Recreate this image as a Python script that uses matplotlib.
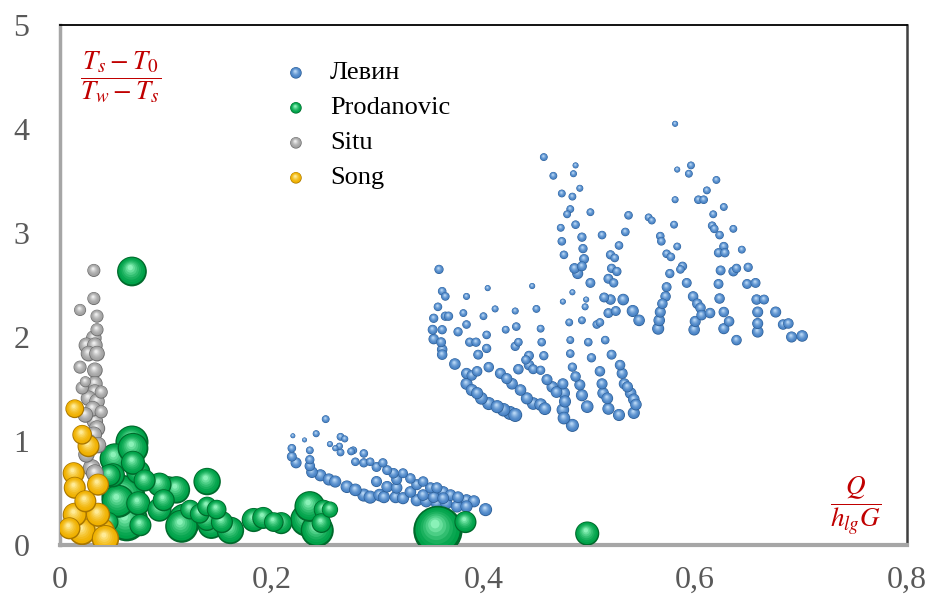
import numpy as np
import matplotlib
matplotlib.use('Agg')
import matplotlib.pyplot as plt
import matplotlib.colors as mcolors
from matplotlib.path import Path
from matplotlib.ticker import FuncFormatter

# ---------------- data: (x, y, bubble value) ----------------
levin_points = [
    # right fan
    (0.581, 4.05, 3), (0.457, 3.73, 5), (0.466, 3.55, 5), (0.487, 3.65, 3), (0.485, 3.57, 4),
    (0.491, 3.43, 4), (0.484, 3.35, 5), (0.474, 3.38, 5), (0.482, 3.23, 5), (0.479, 3.18, 5),
    (0.501, 3.20, 5), (0.473, 3.05, 5), (0.487, 3.08, 6), (0.474, 2.92, 6), (0.493, 2.96, 7),
    (0.494, 2.85, 7), (0.476, 2.79, 6), (0.495, 2.75, 8), (0.486, 2.66, 9), (0.493, 2.68, 8),
    (0.489, 2.61, 10), (0.501, 2.52, 8), (0.512, 2.98, 6), (0.520, 2.79, 7), (0.524, 2.76, 6),
    (0.521, 2.66, 7), (0.526, 2.63, 7), (0.518, 2.56, 8), (0.523, 2.52, 7), (0.514, 2.38, 8),
    (0.520, 2.36, 9), (0.518, 2.23, 8), (0.525, 2.25, 8), (0.532, 2.36, 11), (0.541, 2.25, 12),
    (0.547, 2.16, 11), (0.537, 3.17, 6), (0.534, 3.01, 6), (0.528, 2.88, 6), (0.556, 3.15, 5),
    (0.559, 3.12, 5), (0.567, 2.97, 6), (0.568, 2.92, 6), (0.581, 3.32, 4), (0.580, 3.08, 5),
    (0.583, 2.87, 5), (0.573, 2.80, 6), (0.577, 2.77, 6), (0.588, 2.68, 7), (0.586, 2.65, 6),
    (0.576, 2.61, 7), (0.592, 2.52, 8), (0.573, 2.48, 8), (0.572, 2.39, 9), (0.569, 2.32, 9),
    (0.567, 2.24, 10), (0.566, 2.16, 11), (0.565, 2.08, 12), (0.598, 2.39, 9), (0.602, 2.32, 9),
    (0.605, 2.28, 9), (0.606, 2.21, 9), (0.614, 2.23, 9), (0.600, 2.15, 10), (0.599, 2.07, 11),
    (0.583, 3.61, 3), (0.596, 3.65, 5), (0.594, 3.57, 5), (0.620, 3.51, 5), (0.611, 3.41, 5),
    (0.603, 3.32, 6), (0.608, 3.32, 6), (0.627, 3.25, 5), (0.617, 3.18, 5), (0.616, 3.07, 6),
    (0.618, 3.04, 6), (0.623, 2.98, 6), (0.636, 3.04, 5), (0.627, 2.87, 7), (0.622, 2.81, 7),
    (0.628, 2.81, 7), (0.644, 2.84, 5), (0.624, 2.64, 8), (0.639, 2.66, 7), (0.650, 2.67, 7),
    (0.636, 2.63, 8), (0.622, 2.51, 8), (0.649, 2.51, 8), (0.657, 2.52, 8), (0.623, 2.37, 9),
    (0.658, 2.36, 9), (0.665, 2.36, 8), (0.627, 2.24, 9), (0.659, 2.24, 10), (0.676, 2.24, 10),
    (0.632, 2.15, 9), (0.627, 2.08, 10), (0.659, 2.13, 10), (0.659, 2.05, 11), (0.639, 1.97, 9),
    (0.683, 2.12, 9), (0.688, 2.13, 9), (0.691, 2.00, 10), (0.701, 2.01, 11),
    (0.497, 2.36, 3), (0.496, 2.29, 4), (0.484, 2.43, 3), (0.475, 2.34, 3), (0.493, 2.16, 5),
    (0.481, 2.14, 5), (0.507, 2.12, 6), (0.510, 2.14, 6),
    # lower fan
    (0.358, 2.65, 7), (0.361, 2.44, 6), (0.364, 2.39, 6), (0.384, 2.39, 4), (0.404, 2.47, 3),
    (0.446, 2.49, 3), (0.357, 2.29, 6), (0.353, 2.18, 7), (0.364, 2.20, 7), (0.367, 2.20, 7),
    (0.381, 2.23, 5), (0.411, 2.27, 4), (0.430, 2.25, 4), (0.450, 2.27, 5), (0.400, 2.20, 5),
    (0.352, 2.07, 8), (0.361, 2.07, 7), (0.384, 2.12, 6), (0.376, 2.05, 7), (0.403, 2.02, 6),
    (0.421, 2.07, 5), (0.431, 2.10, 6), (0.454, 2.08, 5), (0.353, 1.98, 9), (0.360, 1.95, 8),
    (0.387, 1.95, 7), (0.393, 1.95, 7), (0.433, 1.95, 6), (0.430, 1.91, 7), (0.455, 1.95, 6),
    (0.361, 1.88, 9), (0.361, 1.83, 9), (0.395, 1.83, 8), (0.403, 1.89, 7), (0.443, 1.82, 8),
    (0.440, 1.78, 7), (0.457, 1.82, 7), (0.373, 1.74, 11), (0.384, 1.65, 10), (0.389, 1.63, 9),
    (0.394, 1.67, 9), (0.405, 1.71, 9), (0.416, 1.65, 10), (0.422, 1.60, 10), (0.427, 1.55, 11),
    (0.433, 1.69, 9), (0.443, 1.73, 9), (0.447, 1.69, 8), (0.454, 1.68, 7), (0.384, 1.55, 12),
    (0.389, 1.49, 12), (0.394, 1.46, 12), (0.398, 1.41, 13), (0.405, 1.36, 14), (0.413, 1.33, 14),
    (0.419, 1.30, 15), (0.425, 1.27, 16), (0.430, 1.25, 16), (0.435, 1.49, 11), (0.441, 1.41, 12),
    (0.447, 1.36, 13), (0.454, 1.35, 13), (0.458, 1.31, 13), (0.460, 1.59, 10), (0.465, 1.52, 11),
    (0.469, 1.47, 11), (0.475, 1.55, 10), (0.476, 1.46, 12), (0.477, 1.38, 12), (0.475, 1.30, 13),
    (0.476, 1.22, 13), (0.484, 1.15, 14), (0.482, 1.97, 5), (0.482, 1.84, 6), (0.484, 1.71, 7),
    (0.487, 1.62, 9), (0.491, 1.54, 10), (0.493, 1.44, 12), (0.498, 1.33, 13), (0.499, 1.95, 6),
    (0.502, 1.80, 7), (0.510, 1.67, 9), (0.512, 1.55, 10), (0.513, 1.46, 11), (0.517, 1.41, 11),
    (0.518, 1.31, 12), (0.515, 1.97, 6), (0.521, 1.83, 8), (0.529, 1.73, 9), (0.531, 1.65, 10),
    (0.533, 1.55, 10), (0.536, 1.52, 10), (0.539, 1.46, 11), (0.542, 1.40, 11), (0.544, 1.35, 11),
    (0.542, 1.27, 12), (0.528, 1.25, 12),
    # lower cluster
    (0.251, 1.21, 5), (0.220, 1.05, 2), (0.231, 1.01, 2), (0.242, 1.07, 4), (0.265, 1.04, 5),
    (0.269, 1.02, 4), (0.255, 0.97, 3), (0.260, 0.93, 3), (0.264, 0.95, 4), (0.265, 0.89, 5),
    (0.277, 0.91, 5), (0.275, 0.90, 5), (0.287, 0.88, 6), (0.219, 0.93, 6), (0.219, 0.85, 8),
    (0.223, 0.79, 10), (0.236, 0.91, 5), (0.236, 0.82, 7), (0.236, 0.76, 9), (0.238, 0.70, 11),
    (0.246, 0.67, 12), (0.254, 0.63, 12), (0.260, 0.61, 12), (0.271, 0.56, 13), (0.279, 0.53, 13),
    (0.287, 0.48, 14), (0.293, 0.46, 14), (0.302, 0.48, 13), (0.279, 0.80, 6), (0.287, 0.79, 7),
    (0.293, 0.80, 6), (0.299, 0.75, 8), (0.305, 0.79, 7), (0.309, 0.72, 8), (0.315, 0.69, 9),
    (0.318, 0.63, 10), (0.324, 0.69, 8), (0.331, 0.64, 9), (0.337, 0.58, 10), (0.343, 0.61, 9),
    (0.350, 0.55, 10), (0.356, 0.55, 10), (0.362, 0.51, 11), (0.369, 0.48, 11), (0.376, 0.46, 11),
    (0.384, 0.43, 12), (0.391, 0.42, 12), (0.402, 0.34, 14), (0.306, 0.46, 12), (0.317, 0.46, 12),
    (0.324, 0.45, 12), (0.337, 0.43, 12), (0.346, 0.42, 12), (0.356, 0.40, 12), (0.365, 0.40, 12),
    (0.375, 0.37, 12), (0.384, 0.37, 12), (0.299, 0.61, 10), (0.309, 0.56, 11), (0.318, 0.55, 11),
    (0.331, 0.51, 11), (0.343, 0.48, 11), (0.353, 0.46, 11), (0.362, 0.45, 11),
]

prodanovic_points = [
    (0.068, 2.63, 73), (0.068, 0.99, 90), (0.052, 0.83, 78), (0.047, 0.67, 40), (0.074, 0.70, 48),
    (0.060, 0.46, 160), (0.074, 0.40, 48), (0.065, 0.24, 122), (0.076, 0.19, 40), (0.094, 0.58, 48),
    (0.102, 0.53, 62), (0.098, 0.43, 40), (0.094, 0.34, 48), (0.110, 0.53, 62), (0.139, 0.61, 62),
    (0.118, 0.24, 90), (0.115, 0.18, 90), (0.123, 0.34, 32), (0.132, 0.30, 32), (0.139, 0.37, 32),
    (0.148, 0.34, 32), (0.143, 0.19, 62), (0.139, 0.24, 40), (0.153, 0.22, 40), (0.161, 0.14, 62),
    (0.183, 0.24, 48), (0.192, 0.26, 40), (0.202, 0.22, 32), (0.209, 0.21, 40), (0.236, 0.37, 78),
    (0.233, 0.24, 90), (0.249, 0.34, 32), (0.255, 0.34, 22), (0.243, 0.14, 90), (0.247, 0.21, 32),
    (0.357, 0.14, 200), (0.383, 0.22, 40), (0.498, 0.11, 48), (0.069, 0.93, 78), (0.050, 0.67, 48),
    (0.055, 0.42, 90), (0.063, 0.22, 122), (0.046, 0.22, 32), (0.069, 0.79, 48), (0.080, 0.62, 40),
]

situ_points = [
    (0.032, 2.64, 14), (0.032, 2.37, 14), (0.019, 2.26, 12), (0.035, 2.20, 14), (0.035, 2.07, 14),
    (0.032, 1.99, 20), (0.025, 1.92, 20), (0.033, 1.92, 20), (0.027, 1.84, 20), (0.035, 1.84, 20),
    (0.019, 1.71, 14), (0.033, 1.68, 20), (0.024, 1.57, 10), (0.033, 1.55, 20), (0.021, 1.51, 14),
    (0.033, 1.47, 20), (0.039, 1.47, 14), (0.027, 1.41, 20), (0.035, 1.38, 20), (0.031, 1.31, 20),
    (0.039, 1.28, 14), (0.024, 1.25, 20), (0.033, 1.19, 22), (0.035, 1.12, 22), (0.032, 1.06, 22),
    (0.027, 0.99, 22), (0.036, 0.96, 22), (0.025, 0.87, 22), (0.030, 0.74, 26), (0.033, 0.69, 26),
]

song_points = [
    (0.014, 1.31, 29), (0.021, 1.06, 32), (0.027, 0.95, 40), (0.013, 0.69, 40), (0.014, 0.55, 40),
    (0.036, 0.58, 40), (0.024, 0.42, 40), (0.014, 0.29, 48), (0.036, 0.29, 48), (0.027, 0.19, 62),
    (0.039, 0.13, 62), (0.021, 0.13, 62), (0.043, 0.06, 62), (0.009, 0.16, 40),
]

series_names = ['Левин', 'Prodanovic', 'Situ', 'Song']
x_ticks = [0, 0.2, 0.4, 0.6, 0.8]
y_ticks = [0, 1, 2, 3, 4, 5]

# ---------------- style ----------------
plt.rcParams['font.family'] = ['Liberation Serif', 'DejaVu Serif']
plt.rcParams['mathtext.fontset'] = 'stix'

# dark edge, body, highlight
cores = {
    'Левин': ('#2c5d94', '#4a84c6', '#b4d4f4'),
    'Prodanovic': ('#006a2c', '#00a249', '#8af2b8'),
    'Situ': ('#6c6c6c', '#a2a2a2', '#ececec'),
    'Song': ('#a87600', '#f0b100', '#ffeb96'),
}
vermelho = '#c00000'
SIZE_K = 6.3        # points^2 per bubble unit
RAIOS = [1.0, 0.9, 0.78, 0.66, 0.54, 0.42, 0.30, 0.18]


def mistura(c1, c2, t):
    a = np.array(mcolors.to_rgb(c1))
    b = np.array(mcolors.to_rgb(c2))
    return (1 - t) * a + t * b


def camadas():
    # circles of one sphere, each smaller and moved up-left
    paths = []
    for r in RAIOS:
        t = 1 - r
        paths.append(Path.circle((-0.07 * t, 0.16 * t), 0.5 * r))
    return paths


def cores_camadas(dark, base, light):
    cols = [mcolors.to_rgb(dark)]
    n = len(RAIOS) - 1
    for i in range(n):
        t = i / (n - 1)
        cols.append(mistura(base, light, t ** 1.5))
    return np.array(cols)


def bolhas(ax, pts, nome, zorder, **kw):
    pts = np.array(pts, dtype=float)
    pts = pts[np.argsort(-pts[:, 2], kind='stable')]  # big ones behind
    n = len(pts)
    k = len(RAIOS)
    x = np.repeat(pts[:, 0], k)
    y = np.repeat(pts[:, 1], k)
    s = np.repeat(pts[:, 2] * SIZE_K, k)
    fc = np.tile(cores_camadas(*cores[nome]), (n, 1))
    sc = ax.scatter(x, y, s=s, c=fc, linewidths=0, zorder=zorder, **kw)
    sc.set_paths(camadas())
    return sc


fig, ax = plt.subplots(figsize=(9.31, 6.03), dpi=100)
fig.subplots_adjust(left=0.0644, right=0.9742, bottom=0.0962, top=0.9585)

todos = [levin_points, prodanovic_points, situ_points, song_points]
for z, (nome, pts) in enumerate(zip(series_names, todos)):
    bolhas(ax, pts, nome, 2 + z)

ax.set_xlim(0, 0.8)
ax.set_ylim(0, 5)
ax.set_xticks(x_ticks)
ax.set_yticks(y_ticks)
fmt = FuncFormatter(lambda v, p: ('%g' % v).replace('.', ','))
ax.xaxis.set_major_formatter(fmt)
ax.yaxis.set_major_formatter(fmt)
ax.tick_params(axis='both', length=0, labelsize=23, labelcolor='#595959')
ax.tick_params(axis='x', pad=15)
ax.tick_params(axis='y', pad=22)

# frame of the plot area
ax.spines['top'].set_color('black')
ax.spines['top'].set_linewidth(1.3)
ax.spines['right'].set_color('#404040')
ax.spines['right'].set_linewidth(1.8)
ax.spines['left'].set_color('#a6a6a6')
ax.spines['left'].set_linewidth(2.5)
ax.spines['bottom'].set_color('#a6a6a6')
ax.spines['bottom'].set_linewidth(3)

# axis labels inside the plot
ax.text(0.072, 0.90, r'$\dfrac{T_s - T_0}{T_w - T_s}$', transform=ax.transAxes,
        ha='center', va='center', color=vermelho, fontsize=19.5)
ax.text(0.939, 0.077, r'$\dfrac{Q}{h_{lg}G}$', transform=ax.transAxes,
        ha='center', va='center', color=vermelho, fontsize=19.5)

# legend drawn by hand so the markers keep the sphere look
for i, nome in enumerate(series_names):
    yy = 0.908 - i * 0.0673
    bolhas(ax, [(0.2786, yy, 11)], nome, 10, transform=ax.transAxes, clip_on=False)
    ax.text(0.3188, yy, nome, transform=ax.transAxes, ha='left', va='center',
            fontsize=19, color='black')

plt.savefig('out.png', dpi=100)
